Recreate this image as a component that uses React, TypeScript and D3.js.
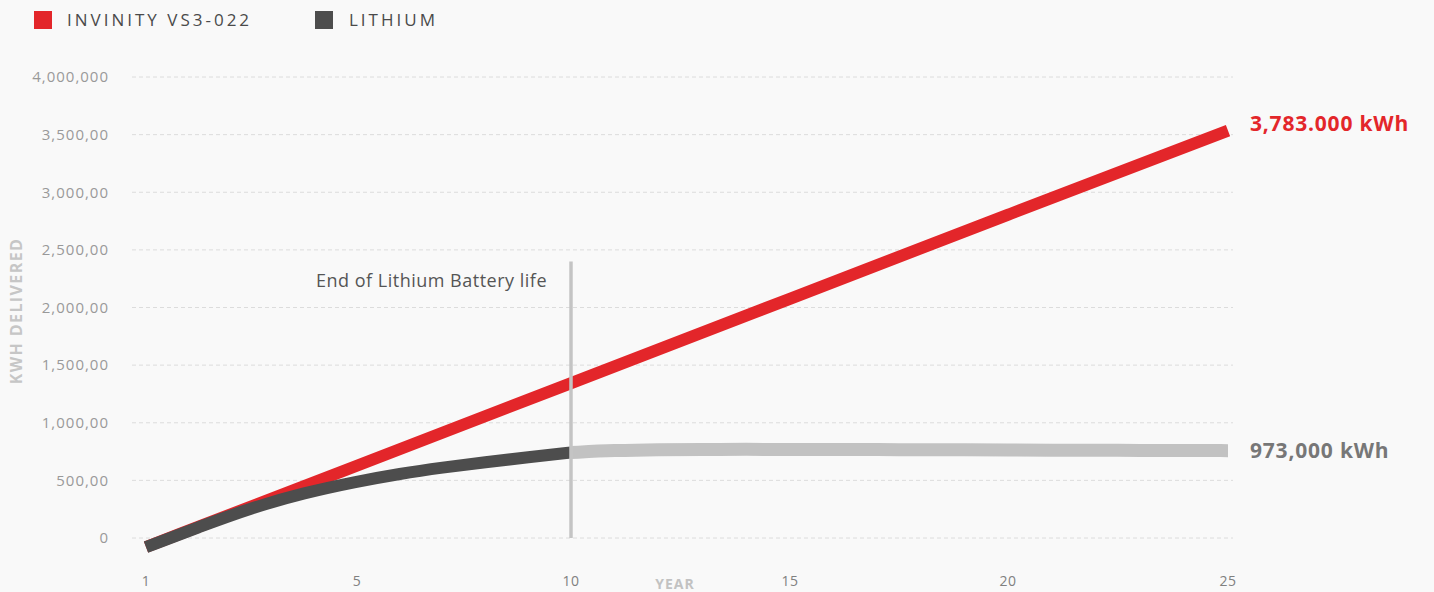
import { useEffect } from "react";
import * as d3 from "d3";

// Year ticks on the x axis
const yearTicks = [1, 5, 10, 15, 20, 25];

// kWh ticks on the y axis (labels as printed in the source)
const kwhTicks = [0, 500000, 1000000, 1500000, 2000000, 2500000, 3000000, 3500000, 4000000];
const kwhTickLabels = ["0", "500,00", "1,000,00", "1,500,00", "2,000,00", "2,500,00", "3,000,00", "3,500,00", "4,000,000"];

// Invinity VS3-022 cumulative delivery
const invinityYears = [1, 5, 10, 15, 20, 25];
const invinityKwh = [-78000, 627000, 1344000, 2076000, 2806000, 3535000];

// Lithium cumulative delivery
const lithiumYears = [1, 2, 3, 4, 5, 6, 7, 8, 9, 10, 11, 12, 13, 14, 15, 16, 17, 18, 19, 20, 21, 22, 23, 24, 25];
const lithiumKwh = [
  -80000, 95000, 262000, 392000, 490000, 558000, 612000, 658000, 701000, 742000,
  760000, 767000, 769000, 769000, 769000, 768000, 767000, 766000, 765000, 764000,
  762000, 761000, 760000, 759000, 758000,
];
const lithiumEndYear = 10;
const markerTopKwh = 2400000;

const legendItems = ["INVINITY VS3-022", "LITHIUM"];
const endLabels = ["3,783.000 kWh", "973,000 kWh"];
const annotation = "End of Lithium Battery life";

const RED = "#e3262a";
const DARK = "#4d4d4d";
const LIGHT = "#c2c2c2";
const FONT = "'Open Sans', sans-serif";

export default function App() {
  useEffect(() => {
    document.body.style.margin = "0";
    document.body.style.overflow = "hidden";
  }, []);

  const width = 1434;
  const height = 592;

  const x = d3.scaleLinear().domain(yearTicks).range([146, 357, 571, 790, 1008, 1228]);
  const y = d3.scaleLinear().domain([0, 4000000]).range([538, 77]);

  const line = d3
    .line<[number, number]>()
    .x((d) => x(d[0]))
    .y((d) => y(d[1]))
    .curve(d3.curveBasis);

  const invinity = invinityYears.map((yr, i) => [yr, invinityKwh[i]] as [number, number]);
  const lithium = lithiumYears.map((yr, i) => [yr, lithiumKwh[i]] as [number, number]);
  const lithiumLife = lithium.filter((d) => d[0] <= lithiumEndYear);
  const lithiumAfter = lithium.filter((d) => d[0] >= lithiumEndYear);

  const lastRed = invinity[invinity.length - 1];
  const lastLi = lithium[lithium.length - 1];

  return (
    <svg width={width} height={height} style={{ display: "block", background: "#f9f9f9" }}>
      {/* Legend */}
      <g fontFamily={FONT}>
        <rect x={34} y={11} width={18} height={18} fill={RED} />
        <text x={67} y={26} fontSize={17} letterSpacing={3} fill="#4a4a4a">
          {legendItems[0]}
        </text>
        <rect x={315} y={11} width={18} height={18} fill={DARK} />
        <text x={349} y={26} fontSize={17} letterSpacing={3} fill="#4a4a4a">
          {legendItems[1]}
        </text>
      </g>

      {/* Grid + y ticks */}
      <g fontFamily={FONT}>
        {kwhTicks.map((t, i) => (
          <g key={t}>
            <line x1={132} x2={1233} y1={y(t)} y2={y(t)} stroke="#dcdcdc" strokeDasharray="4,3" />
            <text x={109} y={y(t)} dy="0.35em" textAnchor="end" fontSize={15} letterSpacing={1} fill="#999">
              {kwhTickLabels[i]}
            </text>
          </g>
        ))}
        <text
          transform={`translate(22,311) rotate(-90)`}
          textAnchor="middle"
          fontSize={16}
          letterSpacing={1.4}
          fontWeight={700}
          fill="#c6c6c6"
        >
          KWH DELIVERED
        </text>
      </g>

      {/* X ticks */}
      <g fontFamily={FONT}>
        {yearTicks.map((t) => (
          <text key={t} x={x(t)} y={586} textAnchor="middle" fontSize={14} letterSpacing={0.5} fill="#808080">
            {t}
          </text>
        ))}
        <text x={675} y={589} textAnchor="middle" fontSize={14} fontWeight={700} letterSpacing={1} fill="#c2c2c2">
          YEAR
        </text>
      </g>

      {/* Series */}
      <path d={line(invinity) || ""} fill="none" stroke={RED} strokeWidth={12} />
      <path d={line(lithiumAfter) || ""} fill="none" stroke={LIGHT} strokeWidth={13} />
      <path d={line(lithiumLife) || ""} fill="none" stroke={DARK} strokeWidth={12} />

      {/* End of lithium life marker */}
      <line
        x1={x(lithiumEndYear)}
        x2={x(lithiumEndYear)}
        y1={y(markerTopKwh)}
        y2={y(0)}
        stroke="#c4c4c4"
        strokeWidth={3.5}
      />
      <text
        x={x(lithiumEndYear) - 24}
        y={y(markerTopKwh) + 26}
        textAnchor="end"
        fontFamily={FONT}
        fontSize={18}
        letterSpacing={0.5}
        fill="#555"
      >
        {annotation}
      </text>

      {/* End labels */}
      <text x={1250} y={y(lastRed[1]) - 7} dy="0.35em" fontFamily={FONT} fontSize={21} letterSpacing={0.8} fontWeight={700} fill={RED}>
        {endLabels[0]}
      </text>
      <text x={1250} y={y(lastLi[1])} dy="0.35em" fontFamily={FONT} fontSize={21} letterSpacing={0.8} fontWeight={700} fill="#777">
        {endLabels[1]}
      </text>
    </svg>
  );
}
